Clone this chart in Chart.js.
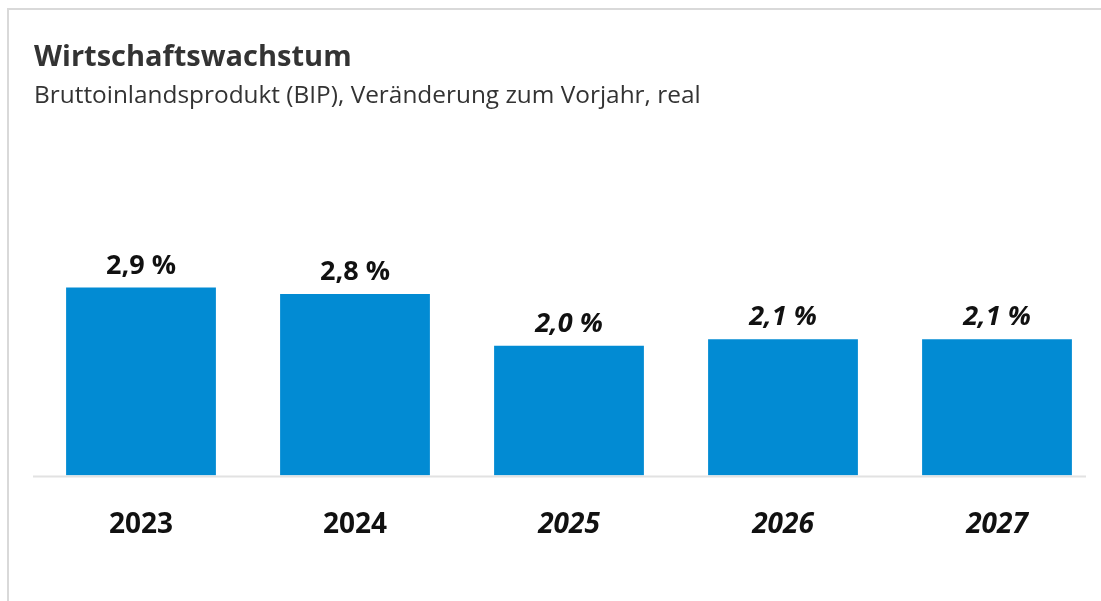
<!DOCTYPE html>
<html lang="de">
<head>
    <meta charset="UTF-8">
    <title>Wirtschaftswachstum</title>
    <script src="https://cdn.jsdelivr.net/npm/chart.js"></script>
    <style>
        html, body { margin: 0; padding: 0; background: #fff; overflow: hidden; }
        .card {
            position: absolute; left: 7px; top: 8px; width: 1200px; height: 700px;
            border-left: 2px solid #d9d9d9; border-top: 2px solid #d9d9d9;
        }
        .wrap { position: absolute; left: 0; top: 0; width: 1104px; height: 601px; }
    </style>
</head>
<body>
    <div class="card"></div>
    <div class="wrap">
        <canvas id="myChart"></canvas>
    </div>
    <script>
        // Jahre und BIP-Wachstum in %
        const years = ['2023', '2024', '2025', '2026', '2027'];
        const growth = [2.9, 2.8, 2.0, 2.1, 2.1];
        // ab 2025 Prognose (kursiv)
        const forecast = [false, false, true, true, true];

        const fontName = "'Open Sans', 'Noto Sans', sans-serif";

        function fmt(v) {
            return v.toFixed(1).replace('.', ',') + ' %';
        }

        // Werte ueber den Balken + Grundlinie
        const labelPlugin = {
            id: 'valueLabels',
            afterDatasetsDraw(chart) {
                const ctx = chart.ctx;
                const meta = chart.getDatasetMeta(0);
                const y0 = chart.scales.y.getPixelForValue(0);
                ctx.save();
                ctx.strokeStyle = '#e2e2e2';
                ctx.lineWidth = 2;
                ctx.beginPath();
                ctx.moveTo(chart.chartArea.left - 1, y0 + 1);
                ctx.lineTo(chart.chartArea.right - 18, y0 + 1);
                ctx.stroke();

                ctx.fillStyle = '#111';
                ctx.textAlign = 'center';
                ctx.textBaseline = 'alphabetic';
                meta.data.forEach(function(bar, i) {
                    ctx.font = (forecast[i] ? 'italic ' : '') + 'bold 27px ' + fontName;
                    ctx.fillText(fmt(growth[i]), bar.x, bar.y - 14);
                });
                ctx.restore();
            }
        };

        const el = document.getElementById('myChart');
        new Chart(el, {
            type: 'bar',
            data: {
                labels: years,
                datasets: [{
                    data: growth,
                    backgroundColor: '#028bd3',
                    borderWidth: 0,
                    barPercentage: 0.7,
                    categoryPercentage: 1.0
                }]
            },
            options: {
                responsive: true,
                maintainAspectRatio: false,
                animation: false,
                layout: { padding: { left: 34, right: 0, top: 40, bottom: 26 } },
                plugins: {
                    legend: { display: false },
                    tooltip: { enabled: false },
                    title: {
                        display: true,
                        text: 'Wirtschaftswachstum',
                        align: 'start',
                        color: '#333',
                        font: { family: fontName, size: 29, weight: 'bold' },
                        padding: { top: 0, bottom: 7 }
                    },
                    subtitle: {
                        display: true,
                        text: 'Bruttoinlandsprodukt (BIP), Veränderung zum Vorjahr, real',
                        align: 'start',
                        color: '#333',
                        font: { family: fontName, size: 24.4 },
                        padding: { top: 0, bottom: 10 }
                    }
                },
                scales: {
                    x: {
                        grid: { display: false, drawTicks: false },
                        border: { display: false },
                        ticks: {
                            color: '#111',
                            padding: 33,
                            font: function(c) {
                                return {
                                    family: fontName, size: 28, weight: 'bold',
                                    style: forecast[c.index] ? 'italic' : 'normal'
                                };
                            }
                        }
                    },
                    y: {
                        display: false,
                        min: 0,
                        max: 5.47
                    }
                }
            },
            plugins: [labelPlugin]
        });
    </script>
</body>
</html>
